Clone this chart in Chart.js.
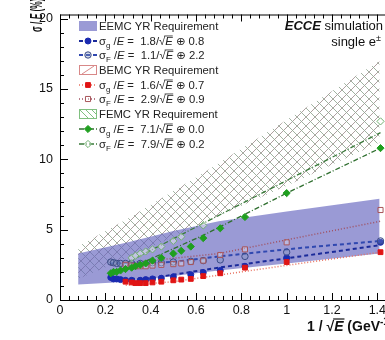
<!DOCTYPE html>
<html lang="en">
<head>
<meta charset="UTF-8">
<title>ECCE simulation single e resolution</title>
<style>
html, body { margin: 0; padding: 0; overflow: hidden; background: #fff; }
canvas { display: block; }
</style>
</head>
<body>
<canvas id="graphCanvas" width="410" height="340"></canvas>
<script src="https://cdn.jsdelivr.net/npm/chart.js@4.4.1/dist/chart.umd.min.js"></script>
<script>
// ---- values ----
var xTickVals = [0, 0.2, 0.4, 0.6, 0.8, 1, 1.2, 1.4];
var yTickVals = [0, 5, 10, 15, 20];

// requirement bands (upper / lower edge)
var eemcBandX = [0.08, 0.3, 0.5, 0.7, 1.0, 1.41];
var eemcHigh  = [3.3, 4.1, 4.9, 5.6, 6.3, 7.2];
var eemcLow   = [1.1, 1.3, 1.7, 2.1, 2.6, 3.3];

var hatchBandX = [0.08, 0.3, 0.62, 1.01, 1.41];
var bemcHigh   = [3.8, 5.8, 8.9, 12.9, 17.0];
var bemcLow    = [1.5, 3.0, 5.4, 8.2, 11.2];
var femcHigh   = [3.8, 5.8, 8.9, 12.9, 17.0];
var femcLow    = [1.5, 3.0, 5.4, 8.2, 11.2];

// simulated points
var eemcGx = [0.224, 0.236, 0.25, 0.267, 0.289, 0.316, 0.354, 0.378, 0.408, 0.447, 0.5, 0.577, 0.632, 0.707, 0.816, 1.0, 1.414];
var eemcGy = [1.6, 1.5, 1.5, 1.45, 1.4, 1.4, 1.4, 1.45, 1.5, 1.55, 1.65, 1.8, 1.95, 2.1, 2.4, 3.0, 4.1];
var eemcFx = [0.224, 0.236, 0.25, 0.267, 0.289, 0.316, 0.354, 0.408, 0.447, 0.5, 0.577, 0.632, 0.707, 0.816, 1.0, 1.414];
var eemcFy = [2.7, 2.65, 2.6, 2.6, 2.6, 2.6, 2.6, 2.65, 2.65, 2.7, 2.75, 2.8, 2.85, 3.1, 3.4, 4.2];

var bemcGx = [0.289, 0.316, 0.333, 0.354, 0.378, 0.408, 0.447, 0.5, 0.535, 0.577, 0.632, 0.707, 0.816, 1.0, 1.414];
var bemcGy = [1.3, 1.25, 1.2, 1.2, 1.2, 1.25, 1.3, 1.4, 1.45, 1.5, 1.7, 1.9, 2.3, 2.7, 3.4];
var bemcFx = [0.289, 0.316, 0.333, 0.354, 0.378, 0.408, 0.447, 0.5, 0.535, 0.577, 0.632, 0.707, 0.816, 1.0, 1.414];
var bemcFy = [2.5, 2.45, 2.4, 2.4, 2.4, 2.45, 2.5, 2.55, 2.6, 2.7, 2.8, 3.2, 3.6, 4.1, 6.4];

var femcGx = [0.224, 0.236, 0.25, 0.267, 0.289, 0.316, 0.333, 0.354, 0.378, 0.408, 0.447, 0.5, 0.535, 0.577, 0.632, 0.707, 0.816, 1.0, 1.414];
var femcGy = [1.9, 2.0, 2.0, 2.1, 2.2, 2.3, 2.4, 2.5, 2.6, 2.8, 3.0, 3.3, 3.5, 3.8, 4.4, 5.1, 5.9, 7.6, 10.8];
var femcFx = [0.316, 0.333, 0.354, 0.378, 0.408, 0.447, 0.5, 0.535, 0.632, 1.414];
var femcFy = [3.0, 3.15, 3.3, 3.45, 3.6, 3.8, 4.2, 4.5, 5.3, 12.7];

// fit curves
var eemcGfitX = [0.22, 0.4, 0.7, 1.06, 1.414];
var eemcGfitY = [1.45, 1.55, 2.3, 3.1, 3.9];
var eemcFfitX = [0.22, 0.5, 0.7, 1.06, 1.414];
var eemcFfitY = [2.6, 2.7, 3.1, 3.7, 4.2];
var bemcGfitX = [0.29, 0.5, 0.8, 1.06, 1.414];
var bemcGfitY = [1.05, 1.3, 2.0, 2.6, 3.4];
var bemcFfitX = [0.22, 0.7, 1.1, 1.414];
var bemcFfitY = [2.5, 3.3, 4.6, 5.6];
var femcGfitX = [0.3, 0.632, 1.0, 1.414];
var femcGfitY = [2.2, 4.6, 7.6, 10.8];
var femcFfitX = [0.3, 0.62, 1.0, 1.414];
var femcFfitY = [2.7, 5.35, 8.5, 11.9];

// legend text
var bandLabels = ['EEMC YR Requirement', 'BEMC YR Requirement', 'FEMC YR Requirement'];
var fitSubs  = ['g', 'F', 'g', 'F', 'g', 'F'];
var fitStoch = ['1.8', '1.1', '1.6', '2.9', '7.1', '7.9'];
var fitConst = ['0.8', '2.2', '0.7', '0.9', '0.0', '0.2'];

// ---- styles ----
var FONT = '"Liberation Sans", "DejaVu Sans", Arial, sans-serif';
var blueBand = 'rgba(100,100,190,0.65)';

var series = [
    {pt: 'circle',  r: 3,   fill: '#1a2ab0', edge: '#1a2ab0', line: '#1a2a9a', dash: [4, 3], lw: 2},
    {pt: 'circle',  r: 3.2, fill: 'rgba(130,150,190,0.35)', edge: '#3a4a86', line: '#3048b0', dash: [4, 3], lw: 2},
    {pt: 'rect',    r: 3.4, fill: '#e01414', edge: '#e01414', line: '#e8705e', dash: [1, 2], lw: 1.5},
    {pt: 'rect',    r: 3.6, fill: 'rgba(255,255,255,0.3)', edge: '#a8555a', line: '#a05060', dash: [1, 2], lw: 1.5},
    {pt: 'rectRot', r: 3.6, fill: '#1f9f1f', edge: '#1f9f1f', line: '#2f6f2f', dash: [5, 2, 1, 2], lw: 1.3},
    {pt: 'rectRot', r: 3.6, fill: 'rgba(255,255,255,0.4)', edge: '#70b070', line: '#3a7a3a', dash: [5, 2, 1, 2], lw: 1.3}
];

function hatch(color, dir) {
    var s = 9;
    var c = document.createElement('canvas');
    c.width = s; c.height = s;
    var g = c.getContext('2d');
    g.strokeStyle = color;
    g.lineWidth = 1;
    g.beginPath();
    if (dir > 0) {
        g.moveTo(0, s); g.lineTo(s, 0);
        g.moveTo(-1, 1); g.lineTo(1, -1);
        g.moveTo(s - 1, s + 1); g.lineTo(s + 1, s - 1);
    } else {
        g.moveTo(0, 0); g.lineTo(s, s);
        g.moveTo(s - 1, -1); g.lineTo(s + 1, 1);
        g.moveTo(-1, s - 1); g.lineTo(1, s + 1);
    }
    g.stroke();
    return g.createPattern(c, 'repeat');
}

function pts(xs, ys) {
    return xs.map(function (x, i) { return {x: x, y: ys[i]}; });
}

var clear = 'rgba(0,0,0,0)';
function edge(xs, ys, order) {
    return {data: pts(xs, ys), showLine: true, borderColor: clear, pointRadius: 0, fill: false, order: order};
}
function band(xs, ys, color, order) {
    return {data: pts(xs, ys), showLine: true, borderColor: clear, pointRadius: 0, fill: '-1', backgroundColor: color, order: order};
}
function fitLine(xs, ys, s) {
    return {data: pts(xs, ys), showLine: true, borderColor: s.line, borderWidth: s.lw, borderDash: s.dash,
            pointRadius: 0, fill: false, order: 20};
}
function marks(xs, ys, s) {
    return {data: pts(xs, ys), showLine: false, pointStyle: s.pt, pointRadius: s.r,
            pointBackgroundColor: s.fill, pointBorderColor: s.edge, pointBorderWidth: 1, order: 10};
}

var datasets = [
    edge(hatchBandX, bemcLow, 50),
    band(hatchBandX, bemcHigh, hatch('rgba(165,150,150,0.9)', 1), 50),
    edge(hatchBandX, femcLow, 49),
    band(hatchBandX, femcHigh, hatch('rgba(150,170,150,0.9)', -1), 49),
    edge(eemcBandX, eemcLow, 40),
    band(eemcBandX, eemcHigh, blueBand, 40),
    fitLine(eemcGfitX, eemcGfitY, series[0]),
    fitLine(eemcFfitX, eemcFfitY, series[1]),
    fitLine(bemcGfitX, bemcGfitY, series[2]),
    fitLine(bemcFfitX, bemcFfitY, series[3]),
    fitLine(femcGfitX, femcGfitY, series[4]),
    fitLine(femcFfitX, femcFfitY, series[5]),
    marks(femcFx, femcFy, series[5]),
    marks(femcGx, femcGy, series[4]),
    marks(bemcFx, bemcFy, series[3]),
    marks(eemcFx, eemcFy, series[1]),
    marks(bemcGx, bemcGy, series[2]),
    marks(eemcGx, eemcGy, series[0])
];

// ROOT style frame with inward ticks
var rootFrame = {
    id: 'rootFrame',
    afterDatasetsDraw: function (chart) {
        var ctx = chart.ctx, a = chart.chartArea, xs = chart.scales.x, ys = chart.scales.y;
        ctx.save();
        ctx.strokeStyle = '#000';
        ctx.lineWidth = 1;
        ctx.beginPath();
        ctx.moveTo(a.left + 0.5, a.top + 0.5);
        ctx.lineTo(a.left + 0.5, a.bottom + 0.5);
        ctx.lineTo(a.right, a.bottom + 0.5);
        ctx.moveTo(a.left, a.top + 0.5);
        ctx.lineTo(a.right, a.top + 0.5);
        for (var i = 0; i <= 37; i++) {
            var px = Math.round(xs.getPixelForValue(i * 0.04)) + 0.5;
            var len = (i % 5 === 0) ? 7 : 4;
            ctx.moveTo(px, a.bottom); ctx.lineTo(px, a.bottom - len);
            ctx.moveTo(px, a.top); ctx.lineTo(px, a.top + len);
        }
        for (var j = 0; j <= 20; j++) {
            var py = Math.round(ys.getPixelForValue(j)) + 0.5;
            var l2 = (j % 5 === 0) ? 8 : 4;
            ctx.moveTo(a.left, py); ctx.lineTo(a.left + l2, py);
        }
        ctx.stroke();
        ctx.restore();
    }
};

function rich(ctx, x, y, parts, size) {
    var cx = x;
    parts.forEach(function (p) {
        var t = p[0], s = p[1];
        var f = size + 'px ' + FONT, dy = 0;
        if (s === 'i' || s === 'ov') f = 'italic ' + f;
        if (s === 'sub') { f = (size * 0.7) + 'px ' + FONT; dy = 3; }
        ctx.font = f;
        ctx.fillText(t, cx, y + dy);
        var w = ctx.measureText(t).width;
        if (s === 'ov') {
            ctx.beginPath();
            ctx.moveTo(cx - 1, y - size * 0.8);
            ctx.lineTo(cx + w, y - size * 0.8);
            ctx.lineWidth = 0.8;
            ctx.stroke();
        }
        cx += w;
    });
    return cx;
}

var annotations = {
    id: 'annotations',
    afterDraw: function (chart) {
        var ctx = chart.ctx;
        var rowY = [26, 41, 55, 70, 85, 99, 114, 129, 144];
        var x0 = 79, x1 = 97, tx = 99, fs = 11.3;
        ctx.save();
        ctx.textBaseline = 'alphabetic';
        ctx.fillStyle = '#222';
        ctx.strokeStyle = '#222';

        for (var k = 0; k < 3; k++) {
            var by = rowY[k * 3];
            // swatch
            if (k === 0) {
                ctx.fillStyle = blueBand;
                ctx.fillRect(x0, by - 5, x1 - x0, 10);
            } else {
                ctx.strokeStyle = (k === 1) ? '#d88888' : '#80c080';
                ctx.lineWidth = 1;
                ctx.strokeRect(x0 + 0.5, by - 4.5, x1 - x0 - 1, 9);
                ctx.beginPath();
                if (k === 1) {
                    ctx.moveTo(x0 + 3, by + 4); ctx.lineTo(x1 - 3, by - 4);
                } else {
                    ctx.moveTo(x0 + 1, by - 4); ctx.lineTo(x0 + 9, by + 4);
                    ctx.moveTo(x0 + 7, by - 4); ctx.lineTo(x0 + 15, by + 4);
                    ctx.moveTo(x0 + 13, by - 4); ctx.lineTo(x1 - 1, by + 0);
                }
                ctx.stroke();
            }
            ctx.fillStyle = '#222';
            ctx.font = fs + 'px ' + FONT;
            ctx.fillText(bandLabels[k], tx, by + 4);

            for (var m = 0; m < 2; m++) {
                var idx = k * 2 + m, s = series[idx], ly = rowY[k * 3 + 1 + m];
                ctx.save();
                ctx.strokeStyle = s.line;
                ctx.lineWidth = s.lw;
                ctx.setLineDash(s.dash);
                ctx.beginPath();
                ctx.moveTo(x0, ly); ctx.lineTo(x1, ly);
                ctx.stroke();
                ctx.setLineDash([]);
                ctx.fillStyle = s.fill;
                ctx.strokeStyle = s.edge;
                ctx.lineWidth = 1;
                Chart.helpers.drawPoint(ctx, {pointStyle: s.pt, radius: s.r, borderWidth: 1, rotation: 0}, (x0 + x1) / 2, ly);
                ctx.restore();
                ctx.fillStyle = '#222';
                ctx.strokeStyle = '#222';
                rich(ctx, tx, ly + 4, [['σ', 'n'], [fitSubs[idx], 'sub'], [' /', 'n'], ['E', 'i'],
                    [' =  ' + fitStoch[idx] + '/', 'n'], ['√', 'n'], ['E', 'ov'], [' ⊕ ' + fitConst[idx], 'n']], fs);
            }
        }

        // top right label
        ctx.fillStyle = '#111';
        ctx.font = 'bold italic 13px ' + FONT;
        var w1 = ctx.measureText('ECCE').width;
        ctx.font = '13px ' + FONT;
        var w2 = ctx.measureText(' simulation').width;
        var sx = 383 - w1 - w2;
        ctx.font = 'bold italic 13px ' + FONT;
        ctx.fillText('ECCE', sx, 30);
        ctx.font = '13px ' + FONT;
        ctx.fillText(' simulation', sx + w1, 30);
        var w3 = ctx.measureText('single e').width;
        ctx.font = '9px ' + FONT;
        var w4 = ctx.measureText('±').width;
        ctx.fillText('±', 381 - w4, 41);
        ctx.font = '13px ' + FONT;
        ctx.fillText('single e', 381 - w4 - w3, 46);

        // y title
        ctx.save();
        ctx.translate(42, 32);
        ctx.rotate(-Math.PI / 2);
        ctx.scale(0.52, 1);
        ctx.font = 'bold 16px ' + FONT;
        ctx.fillText('σ / ', 0, 0);
        var u = ctx.measureText('σ / ').width;
        ctx.font = 'bold italic 16px ' + FONT;
        ctx.fillText('E', u, 0);
        u += ctx.measureText('E').width;
        ctx.font = 'bold 16px ' + FONT;
        ctx.fillText(' (%)', u, 0);
        ctx.restore();

        // x title
        var xb = 331, cx = 307;
        ctx.font = 'bold 14px ' + FONT;
        ctx.fillText('1 / ', cx, xb); cx += ctx.measureText('1 / ').width;
        ctx.fillText('√', cx, xb); cx += ctx.measureText('√').width;
        ctx.font = 'bold italic 14px ' + FONT;
        var we = ctx.measureText('E').width;
        ctx.fillText('E', cx, xb);
        ctx.beginPath();
        ctx.lineWidth = 1.2;
        ctx.strokeStyle = '#111';
        ctx.moveTo(cx - 1, xb - 12); ctx.lineTo(cx + we + 1, xb - 12);
        ctx.stroke();
        cx += we;
        ctx.font = 'bold 14px ' + FONT;
        ctx.fillText(' (GeV', cx, xb); cx += ctx.measureText(' (GeV').width;
        ctx.font = 'bold 10px ' + FONT;
        ctx.fillText('-1/2', cx, xb - 6); cx += ctx.measureText('-1/2').width;
        ctx.font = 'bold 14px ' + FONT;
        ctx.fillText(')', cx, xb);
        ctx.restore();
    }
};

var tickFont = {family: FONT, size: 12.5};

new Chart(document.getElementById('graphCanvas'), {
    type: 'scatter',
    data: {datasets: datasets},
    options: {
        responsive: false,
        animation: false,
        events: [],
        layout: {padding: {left: 0, top: 14, right: 10, bottom: 0}},
        plugins: {legend: {display: false}, tooltip: {enabled: false}},
        scales: {
            x: {
                type: 'linear', min: 0, max: 1.5,
                grid: {display: false, drawTicks: false},
                border: {display: false},
                ticks: {font: tickFont, color: '#111', padding: 3, maxRotation: 0, autoSkip: false,
                        callback: function (v) { return String(v); }},
                afterBuildTicks: function (scale) { scale.ticks = xTickVals.map(function (v) { return {value: v}; }); },
                afterFit: function (scale) { scale.height = 40; }
            },
            y: {
                type: 'linear', min: 0, max: 20.3,
                grid: {display: false, drawTicks: false},
                border: {display: false},
                ticks: {font: tickFont, color: '#111', padding: 7,
                        callback: function (v) { return String(v); }},
                afterBuildTicks: function (scale) { scale.ticks = yTickVals.map(function (v) { return {value: v}; }); },
                afterFit: function (scale) { scale.width = 60; }
            }
        }
    },
    plugins: [rootFrame, annotations]
});
</script>
</body>
</html>
